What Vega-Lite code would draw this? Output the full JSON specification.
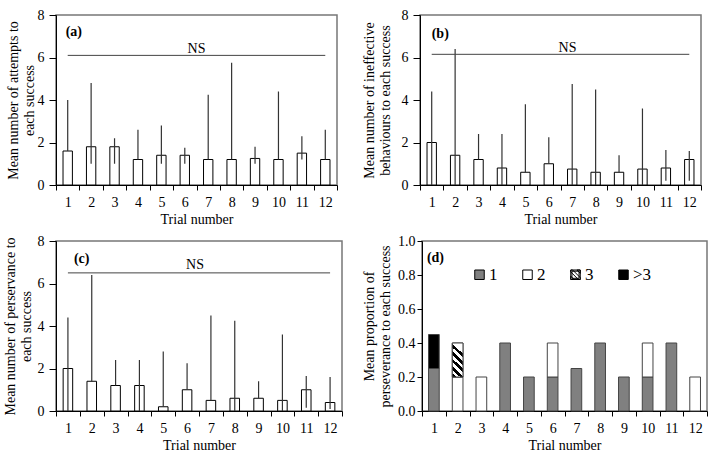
{
  "$schema": "https://vega.github.io/schema/vega-lite/v6.json",
  "description": "Four panels: mean attempts, ineffective behaviours, perseverance per success and proportion of perseverance, by trial number.",
  "padding": {"left": 2, "top": 7, "right": 0, "bottom": 0},
  "spacing": 6,
  "resolve": {"scale": {"fill": "independent"}, "legend": {"fill": "independent"}},
  "vconcat": [
    {
      "spacing": 22,
      "hconcat": [
        {
          "width": 281,
          "height": 170,
          "data": {
            "values": [
              {"trial": 1, "mean": 1.6, "lo": 1.6, "hi": 4.0},
              {"trial": 2, "mean": 1.8, "lo": 1.0, "hi": 4.8},
              {"trial": 3, "mean": 1.8, "lo": 1.0, "hi": 2.2},
              {"trial": 4, "mean": 1.2, "lo": 1.2, "hi": 2.6},
              {"trial": 5, "mean": 1.4, "lo": 1.0, "hi": 2.8},
              {"trial": 6, "mean": 1.4, "lo": 1.0, "hi": 1.75},
              {"trial": 7, "mean": 1.2, "lo": 1.2, "hi": 4.25},
              {"trial": 8, "mean": 1.2, "lo": 1.2, "hi": 5.75},
              {"trial": 9, "mean": 1.25, "lo": 1.0, "hi": 1.8},
              {"trial": 10, "mean": 1.2, "lo": 1.2, "hi": 4.4},
              {"trial": 11, "mean": 1.5, "lo": 1.2, "hi": 2.3},
              {"trial": 12, "mean": 1.2, "lo": 1.2, "hi": 2.6}
            ]
          },
          "encoding": {
            "x": {
              "field": "trial",
              "type": "ordinal",
              "scale": {"domain": [1, 2, 3, 4, 5, 6, 7, 8, 9, 10, 11, 12], "paddingInner": 0, "paddingOuter": 0},
              "title": "Trial number"
            }
          },
          "layer": [
            {
              "mark": {"type": "bar", "fill": "white", "stroke": "black", "strokeWidth": 1, "width": {"band": 0.4}},
              "encoding": {
                "y": {
                  "field": "mean",
                  "type": "quantitative",
                  "scale": {"domain": [0, 8]},
                  "axis": {"values": [0, 2, 4, 6, 8], "titlePadding": 1},
                  "title": ["Mean number of attempts to", "each success"]
                }
              }
            },
            {
              "mark": {"type": "rule", "color": "#333", "strokeWidth": 1.2},
              "encoding": {"y": {"field": "lo", "type": "quantitative"}, "y2": {"field": "hi"}}
            },
            {
              "data": {"values": [{}]},
              "mark": {"type": "rule", "color": "#444"},
              "encoding": {"x": {"datum": 1}, "x2": {"datum": 12}, "y": {"datum": 6.1}}
            },
            {
              "data": {"values": [{}]},
              "mark": {"type": "text", "baseline": "alphabetic", "dy": -2},
              "encoding": {"x": {"datum": 6, "bandPosition": 1}, "y": {"datum": 6.1}, "text": {"value": "NS"}}
            },
            {
              "data": {"values": [{}]},
              "mark": {"type": "text", "align": "left", "fontWeight": "bold", "dx": -2},
              "encoding": {"x": {"datum": 1}, "y": {"datum": 7.2}, "text": {"value": "(a)"}}
            }
          ]
        },
        {
          "width": 281,
          "height": 170,
          "data": {
            "values": [
              {"trial": 1, "mean": 2.0, "lo": 0, "hi": 4.4},
              {"trial": 2, "mean": 1.4, "lo": 0, "hi": 6.4},
              {"trial": 3, "mean": 1.2, "lo": 1.2, "hi": 2.4},
              {"trial": 4, "mean": 0.8, "lo": 0, "hi": 2.4},
              {"trial": 5, "mean": 0.6, "lo": 0.6, "hi": 3.8},
              {"trial": 6, "mean": 1.0, "lo": 1.0, "hi": 2.25},
              {"trial": 7, "mean": 0.75, "lo": 0, "hi": 4.75},
              {"trial": 8, "mean": 0.6, "lo": 0, "hi": 4.5},
              {"trial": 9, "mean": 0.6, "lo": 0.6, "hi": 1.4},
              {"trial": 10, "mean": 0.75, "lo": 0, "hi": 3.6},
              {"trial": 11, "mean": 0.8, "lo": 0.2, "hi": 1.65},
              {"trial": 12, "mean": 1.2, "lo": 0.2, "hi": 1.6}
            ]
          },
          "encoding": {
            "x": {
              "field": "trial",
              "type": "ordinal",
              "scale": {"domain": [1, 2, 3, 4, 5, 6, 7, 8, 9, 10, 11, 12], "paddingInner": 0, "paddingOuter": 0},
              "title": "Trial number"
            }
          },
          "layer": [
            {
              "mark": {"type": "bar", "fill": "white", "stroke": "black", "strokeWidth": 1, "width": {"band": 0.4}},
              "encoding": {
                "y": {
                  "field": "mean",
                  "type": "quantitative",
                  "scale": {"domain": [0, 8]},
                  "axis": {"values": [0, 2, 4, 6, 8], "titlePadding": 9},
                  "title": ["Mean number of ineffective", "behaviours to each success"]
                }
              }
            },
            {
              "mark": {"type": "rule", "color": "#333", "strokeWidth": 1.2},
              "encoding": {"y": {"field": "lo", "type": "quantitative"}, "y2": {"field": "hi"}}
            },
            {
              "data": {"values": [{}]},
              "mark": {"type": "rule", "color": "#444"},
              "encoding": {"x": {"datum": 1}, "x2": {"datum": 12}, "y": {"datum": 6.15}}
            },
            {
              "data": {"values": [{}]},
              "mark": {"type": "text", "baseline": "alphabetic", "dy": -2, "dx": 7},
              "encoding": {"x": {"datum": 6, "bandPosition": 1}, "y": {"datum": 6.15}, "text": {"value": "NS"}}
            },
            {
              "data": {"values": [{}]},
              "mark": {"type": "text", "align": "left", "fontWeight": "bold", "dx": 0},
              "encoding": {"x": {"datum": 1}, "y": {"datum": 7.1}, "text": {"value": "(b)"}}
            }
          ]
        }
      ]
    },
    {
      "spacing": 17,
      "resolve": {"scale": {"fill": "independent"}, "legend": {"fill": "independent"}},
      "hconcat": [
        {
          "width": 286,
          "height": 170,
          "data": {
            "values": [
              {"trial": 1, "mean": 2.0, "lo": 0, "hi": 4.4},
              {"trial": 2, "mean": 1.4, "lo": 1.4, "hi": 6.4},
              {"trial": 3, "mean": 1.2, "lo": 1.2, "hi": 2.4},
              {"trial": 4, "mean": 1.2, "lo": 0, "hi": 2.4},
              {"trial": 5, "mean": 0.2, "lo": 0.2, "hi": 2.8},
              {"trial": 6, "mean": 1.0, "lo": 1.0, "hi": 2.25},
              {"trial": 7, "mean": 0.5, "lo": 0.5, "hi": 4.5},
              {"trial": 8, "mean": 0.6, "lo": 0, "hi": 4.25},
              {"trial": 9, "mean": 0.6, "lo": 0.6, "hi": 1.4},
              {"trial": 10, "mean": 0.5, "lo": 0, "hi": 3.6},
              {"trial": 11, "mean": 1.0, "lo": 0.15, "hi": 1.65},
              {"trial": 12, "mean": 0.4, "lo": 0.1, "hi": 1.6}
            ]
          },
          "encoding": {
            "x": {
              "field": "trial",
              "type": "ordinal",
              "scale": {"domain": [1, 2, 3, 4, 5, 6, 7, 8, 9, 10, 11, 12], "paddingInner": 0, "paddingOuter": 0},
              "title": "Trial number"
            }
          },
          "layer": [
            {
              "mark": {"type": "bar", "fill": "white", "stroke": "black", "strokeWidth": 1, "width": {"band": 0.4}},
              "encoding": {
                "y": {
                  "field": "mean",
                  "type": "quantitative",
                  "scale": {"domain": [0, 8]},
                  "axis": {"values": [0, 2, 4, 6, 8], "titlePadding": 4},
                  "title": ["Mean number of perservance to", "each success"]
                }
              }
            },
            {
              "mark": {"type": "rule", "color": "#333", "strokeWidth": 1.2},
              "encoding": {"y": {"field": "lo", "type": "quantitative"}, "y2": {"field": "hi"}}
            },
            {
              "data": {"values": [{}]},
              "mark": {"type": "rule", "color": "#444"},
              "encoding": {"x": {"datum": 1}, "x2": {"datum": 12}, "y": {"datum": 6.5}}
            },
            {
              "data": {"values": [{}]},
              "mark": {"type": "text", "baseline": "alphabetic", "dy": -4, "dx": -4},
              "encoding": {"x": {"datum": 6, "bandPosition": 1}, "y": {"datum": 6.5}, "text": {"value": "NS"}}
            },
            {
              "data": {"values": [{}]},
              "mark": {"type": "text", "align": "left", "fontWeight": "bold", "dx": 6},
              "encoding": {"x": {"datum": 1}, "y": {"datum": 7.15}, "text": {"value": "(c)"}}
            }
          ]
        },
        {
          "width": 285,
          "height": 170,
          "encoding": {
            "x": {
              "field": "trial",
              "type": "ordinal",
              "scale": {"domain": [1, 2, 3, 4, 5, 6, 7, 8, 9, 10, 11, 12], "paddingInner": 0, "paddingOuter": 0},
              "title": "Trial number"
            }
          },
          "layer": [
            {
              "data": {
                "values": [
                  {"trial": 1, "level": "1", "prop": 0.25},
                  {"trial": 1, "level": ">3", "prop": 0.2},
                  {"trial": 2, "level": "2", "prop": 0.2},
                  {"trial": 2, "level": "3", "prop": 0.2},
                  {"trial": 3, "level": "2", "prop": 0.2},
                  {"trial": 4, "level": "1", "prop": 0.4},
                  {"trial": 5, "level": "1", "prop": 0.2},
                  {"trial": 6, "level": "1", "prop": 0.2},
                  {"trial": 6, "level": "2", "prop": 0.2},
                  {"trial": 7, "level": "1", "prop": 0.25},
                  {"trial": 8, "level": "1", "prop": 0.4},
                  {"trial": 9, "level": "1", "prop": 0.2},
                  {"trial": 10, "level": "1", "prop": 0.2},
                  {"trial": 10, "level": "2", "prop": 0.2},
                  {"trial": 11, "level": "1", "prop": 0.4},
                  {"trial": 12, "level": "2", "prop": 0.2}
                ]
              },
              "transform": [
                {"stack": "prop", "groupby": ["trial"], "sort": [{"field": "level", "order": "ascending"}], "as": ["p0", "p1"]}
              ],
              "encoding": {
                "y": {
                  "field": "p1",
                  "type": "quantitative",
                  "scale": {"domain": [0, 1]},
                  "axis": {"values": [0, 0.2, 0.4, 0.6, 0.8, 1], "format": ".1f", "titlePadding": 5, "tickSize": 5, "labelPadding": 2, "labelOverlap": false},
                  "title": ["Mean proportion of", "perseverance to each success"]
                },
                "y2": {"field": "p0"}
              },
              "layer": [
                {
                  "mark": {"type": "bar", "stroke": "#444", "strokeWidth": 1, "width": {"band": 0.45}},
                  "encoding": {
                    "fill": {
                      "field": "level",
                      "type": "nominal",
                      "scale": {"domain": ["1", "2", "3", ">3"], "range": ["#808080", "white", "white", "black"]},
                      "legend": {
                        "title": null,
                        "orient": "none",
                        "direction": "horizontal",
                        "legendX": 49,
                        "legendY": 25,
                        "padding": 0,
                        "symbolType": "square",
                        "symbolSize": 90,
                        "symbolStrokeColor": "black",
                        "symbolStrokeWidth": 1,
                        "labelFont": "Liberation Serif",
                        "labelFontSize": 17,
                        "labelColor": "black",
                        "labelOffset": 1,
                        "columnPadding": 11,
                        "gridAlign": "all",
                        "labelExpr": "datum.label === '>3' ? '\u00a0\u00a0>3' : datum.label",
                        "encode": {
                          "symbols": {
                            "update": {
                              "stroke": {"value": "black"},
                              "strokeWidth": {"value": 1},
                              "opacity": {"value": 1},
                              "shape": [
                                {"test": "datum.value === '3'", "value": "M-1,-1L1,-1L1,1L-1,1Z M-0.75,-0.75L-0.75,0.75L0.75,0.75L0.75,-0.75Z M-1,-1L-0.6,-1L1,0.6L1,1L0.6,1L-1,-0.6Z M0.3,-1L1,-1L1,-0.3Z M-1,0.3L-0.3,1L-1,1Z"},
                                {"value": "square"}
                              ],
                              "fill": [
                                {"test": "datum.value === '1'", "value": "#808080"},
                                {"test": "datum.value === '2'", "value": "white"},
                                {"value": "black"}
                              ]
                            }
                          }
                        }
                      }
                    }
                  }
                },
                {
                  "transform": [{"filter": "datum.level === '3'"}],
                  "mark": {
                    "type": "bar",
                    "stroke": "#444",
                    "strokeWidth": 1,
                    "width": {"band": 0.45},
                    "fill": {
                      "gradient": "linear",
                      "x1": 0, "y1": 1, "x2": 0.3, "y2": 0,
                      "stops": [
                        {"offset": 0, "color": "black"}, {"offset": 0.1, "color": "black"},
                        {"offset": 0.1, "color": "white"}, {"offset": 0.2, "color": "white"},
                        {"offset": 0.2, "color": "black"}, {"offset": 0.3, "color": "black"},
                        {"offset": 0.3, "color": "white"}, {"offset": 0.4, "color": "white"},
                        {"offset": 0.4, "color": "black"}, {"offset": 0.5, "color": "black"},
                        {"offset": 0.5, "color": "white"}, {"offset": 0.6, "color": "white"},
                        {"offset": 0.6, "color": "black"}, {"offset": 0.7, "color": "black"},
                        {"offset": 0.7, "color": "white"}, {"offset": 0.8, "color": "white"},
                        {"offset": 0.8, "color": "black"}, {"offset": 0.9, "color": "black"},
                        {"offset": 0.9, "color": "white"}, {"offset": 1, "color": "white"}
                      ]
                    }
                  }
                }
              ]
            },
            {
              "data": {"values": [{}]},
              "mark": {"type": "text", "align": "left", "fontWeight": "bold", "dx": -7},
              "encoding": {
                "x": {"datum": 1},
                "y": {
                  "datum": 0.9,
                  "type": "quantitative",
                  "axis": {"values": [0, 0.2, 0.4, 0.6, 0.8, 1], "format": ".1f", "titlePadding": 5, "tickSize": 5, "labelPadding": 2, "labelOverlap": false}
                },
                "text": {"value": "(d)"}
              }
            }
          ]
        }
      ]
    }
  ],
  "config": {
    "font": "Liberation Serif",
    "view": {"stroke": "#777", "strokeWidth": 1.5},
    "axis": {
      "labelFont": "Liberation Serif",
      "titleFont": "Liberation Serif",
      "labelFontSize": 14,
      "titleFontSize": 14,
      "titleFontWeight": "normal",
      "labelColor": "black",
      "titleColor": "black",
      "domainColor": "black",
      "tickColor": "black",
      "grid": false,
      "titleLineHeight": 16
    },
    "axisY": {"tickSize": 7, "labelPadding": 5},
    "axisX": {"tickBand": "extent", "labelAngle": 0, "tickSize": 5, "labelPadding": 5, "titlePadding": 3},
    "legend": {"labelFont": "Liberation Serif"},
    "text": {"font": "Liberation Serif", "fontSize": 14, "color": "black"}
  }
}
